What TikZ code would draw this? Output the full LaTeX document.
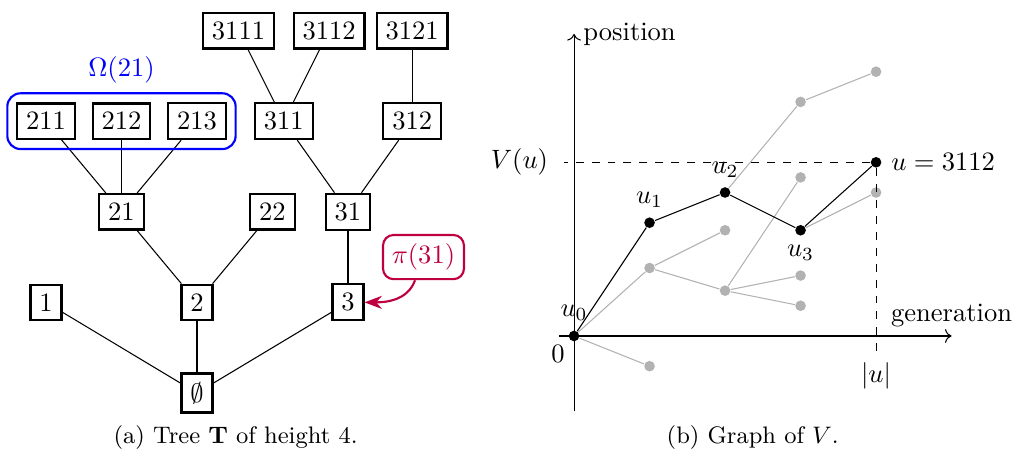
\documentclass[tikz,border=0pt]{standalone}
\usepackage{tikz}
\usetikzlibrary{arrows.meta,positioning,fit,calc}

\begin{document}
\begin{tikzpicture}[
  node distance=1.2cm and 1cm, on grid,
  tnode/.style={draw, thick, rectangle},
  omega/.style={draw=blue, thick, rounded corners=5pt},
  pinode/.style={draw=purple, thick, rounded corners=4pt, text=purple},
  piarr/.style={-{Stealth[length=2.3mm]}, thick, color=purple},
  bdot/.style={circle, fill=black, inner sep=0pt, minimum size=4pt},
  gdot/.style={circle, fill=gray!60, inner sep=0pt, minimum size=4pt},
  gline/.style={gray!60},
  captext/.style={font=\small}
]
  \useasboundingbox (0,0) rectangle (13.417,5.960);

  % (a) tree
  \node[tnode] (e) at (2.609,0.755) {$\emptyset$};
  \node[tnode, above=of e] (n2) {2};
  \node[tnode, left=2cm of n2] (n1) {1};
  \node[tnode, right=2cm of n2] (n3) {3};
  \node[tnode, above left=of n2] (n21) {21};
  \node[tnode, above right=of n2] (n22) {22};
  \node[tnode, above=of n3] (n31) {31};
  \node[tnode, above=of n21] (n212) {212};
  \node[tnode, left=of n212] (n211) {211};
  \node[tnode, right=of n212] (n213) {213};
  \node[tnode, above left=1.2cm and 0.85cm of n31] (n311) {311};
  \node[tnode, above right=1.2cm and 0.85cm of n31] (n312) {312};
  \node[tnode, above left=1.2cm and 0.6cm of n311] (n3111) {3111};
  \node[tnode, above right=1.2cm and 0.6cm of n311] (n3112) {3112};
  \node[tnode, above=of n312] (n3121) {3121};

  \draw (e) -- (n1);
  \draw (e) -- (n2);
  \draw (e) -- (n3);
  \draw (n2) -- (n21);
  \draw (n2) -- (n22);
  \draw (n3) -- (n31);
  \draw (n21) -- (n211);
  \draw (n21) -- (n212);
  \draw (n21) -- (n213);
  \draw (n31) -- (n311);
  \draw (n31) -- (n312);
  \draw (n311) -- (n3111);
  \draw (n311) -- (n3112);
  \draw (n312) -- (n3121);

  \node[omega, fit=(n211)(n213), label={[text=blue]above:$\Omega(21)$}] (om) {};
  \node[pinode, above right=0.6cm and 1cm of n3] (pi) {$\pi(31)$};
  \draw[piarr] (pi) to[out=-110, in=0] (n3);

  \node[captext] (capa) at (3.12,0.17) {(a) Tree $\mathbf{T}$ of height 4.};

  % (b) graph of V
  \begin{scope}[shift={(7.603,1.510)}]
    \draw[->] (-0.2,0) -- (5,0) node[above] (xl) {generation};
    \draw[->] (0,-1) -- (0,4) node[right] (yl) {position};
    \node[below left] (zero) at (0,0) {$0$};

    \node[gdot] (a1) at (1,0.9) {};
    \node[gdot] (a2) at (1,-0.4) {};
    \node[gdot] (b1) at (2,1.4) {};
    \node[gdot] (b2) at (2,0.6) {};
    \node[gdot] (c1) at (3,3.1) {};
    \node[gdot] (c2) at (3,2.1) {};
    \node[gdot] (c3) at (3,0.8) {};
    \node[gdot] (c4) at (3,0.4) {};
    \node[gdot] (d1) at (4,3.5) {};
    \node[gdot] (d2) at (4,1.9) {};

    \node[bdot, label=above:$u_0$] (u0) at (0,0) {};
    \node[bdot, label=above:$u_1$] (u1) at (1,1.5) {};
    \node[bdot, label=above:$u_2$] (u2) at (2,1.9) {};
    \node[bdot, label=below:$u_3$] (u3) at (3,1.4) {};
    \node[bdot, label=right:{$u=3112$}] (u) at (4,2.3) {};

    \coordinate (vu) at (-0.13,2.3);
    \coordinate (gu) at (4,-0.23);
    \draw[dashed] (u) -- (vu);
    \draw[dashed] (u) -- (gu);
    \node[left] (vul) at (-0.22,2.3) {$V(u)$};
    \node[below] (gul) at (gu) {$|u|$};

    \draw[gline] (u0) -- (a1);
    \draw[gline] (u0) -- (a2);
    \draw[gline] (a1) -- (b1);
    \draw[gline] (a1) -- (b2);
    \draw[gline] (b2) -- (c2);
    \draw[gline] (b2) -- (c3);
    \draw[gline] (b2) -- (c4);
    \draw[gline] (u2) -- (c1);
    \draw[gline] (c1) -- (d1);
    \draw[gline] (u3) -- (d2);

    \draw (u0) -- (u1) -- (u2) -- (u3) -- (u);
  \end{scope}

  \node[captext] (capb) at (9.97,0.17) {(b) Graph of $V$.};
\end{tikzpicture}
\end{document}
